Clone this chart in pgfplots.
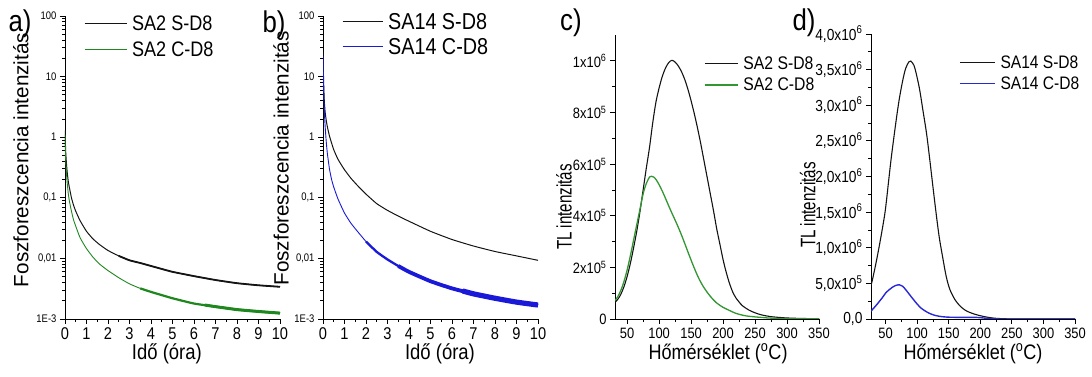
\documentclass[border=0pt]{standalone}
\usepackage{fontspec}
\setmainfont{Liberation Sans}[FakeStretch=0.86]
\newfontfamily\plainfont{Liberation Sans}
\newfontfamily\condfont{Liberation Sans}[FakeStretch=0.72]
\usepackage{pgfplots}
\pgfplotsset{compat=1.18}
\definecolor{cgreen}{RGB}{30,135,30}
\definecolor{cgreenc}{RGB}{50,150,50}
\definecolor{cblue}{RGB}{25,25,215}
\definecolor{cblued}{RGB}{40,40,215}
\definecolor{cblack}{RGB}{20,20,20}
\newcommand{\fs}[1]{\fontsize{#1pt}{#1pt}\selectfont}

\pgfplotsset{
 common/.style={scale only axis, axis lines=left, axis line style={-, line width=0.9pt},
   tick align=outside, major tick length=5pt, minor tick length=3pt,
   every tick/.style={black, line width=0.8pt}, clip mode=individual,
   /pgf/number format/assume math mode=true, legend cell align=left,
   legend style={draw=none, fill=none, inner sep=0pt, nodes={inner sep=1pt},
     /tikz/every odd column/.append style={column sep=4pt}},
   scaled ticks=false},
 logminor/.style={minor ytick={2e-3,3e-3,4e-3,5e-3,6e-3,7e-3,8e-3,9e-3,
   2e-2,3e-2,4e-2,5e-2,6e-2,7e-2,8e-2,9e-2,0.2,0.3,0.4,0.5,0.6,0.7,0.8,0.9,
   2,3,4,5,6,7,8,9,20,30,40,50,60,70,80,90}},
}

\begin{document}
\begin{tikzpicture}
\path[use as bounding box] (0pt,0pt) rectangle (1092pt,377pt);

% ---------------- a ----------------
\begin{axis}[common, logminor, at={(65pt,58pt)}, anchor=south west, width=215pt, height=303pt,
  ymode=log, xmin=0, xmax=10, ymin=1e-3, ymax=100,
  xtick={0,1,2,3,4,5,6,7,8,9,10}, minor x tick num=1,
  ytick={1e-3,1e-2,1e-1,1,10,100}, yticklabels={1E-3,{0,01},{0,1},1,10,100},
  xticklabel style={font=\fs{17}}, yticklabel style={font=\fs{11}},
  xlabel={Idő (óra)}, ylabel={Foszforeszcencia intenzitás},
  xlabel style={font=\fs{21.5}, at={(axis description cs:0.474,-0.116)}, anchor=center},
  ylabel style={font=\plainfont\fs{20.7}, at={(axis description cs:-0.205,0.525)}, anchor=center},
  legend style={at={(axis description cs:0.088,1.005)}, anchor=north west, font=\fs{21}, row sep=8pt},
  legend image code/.code={\draw[#1] (0pt,0pt) -- (42pt,0pt);}]
\addplot[cblack, line width=1pt, smooth, tension=0.3] coordinates {
(0,1.3)(0.03,0.6)(0.06,0.4)(0.1,0.27)(0.15,0.19)(0.2,0.15)(0.3,0.1)(0.4,0.075)(0.5,0.06)(0.7,0.042)
(1,0.028)(1.3,0.021)(1.6,0.017)(2,0.0135)(2.5,0.011)(3,0.0093)(3.5,0.0084)(4,0.0075)(4.5,0.0067)
(5,0.006)(6,0.0051)(7,0.0044)(8,0.0039)(9,0.0036)(10,0.0034)};
\addlegendentry{SA2 S-D8}
\addplot[cgreen, line width=0.9pt, smooth, tension=0.3] coordinates {
(0,1.1)(0.03,0.45)(0.06,0.28)(0.1,0.18)(0.15,0.12)(0.2,0.09)(0.3,0.06)(0.4,0.043)(0.5,0.034)(0.7,0.022)
(1,0.0145)(1.3,0.0105)(1.6,0.0081)(2,0.0063)(2.5,0.0048)(3,0.0038)(3.5,0.0032)(4,0.0028)
(5,0.0022)(6,0.0018)(7,0.0016)(8,0.00143)(9,0.00133)(10,0.00125)};
\addlegendentry{SA2 C-D8}
\addplot[cblack, line width=1.8pt, smooth, tension=0.3, forget plot] coordinates {
(2.5,0.011)(3,0.0093)(3.5,0.0084)(4,0.0075)(4.5,0.0067)
(5,0.006)(6,0.0051)(7,0.0044)(8,0.0039)(9,0.0036)(10,0.0034)};
\addplot[cgreen, line width=2.2pt, smooth, tension=0.3, forget plot] coordinates {
(3.5,0.0032)(4,0.0028)(5,0.0022)(6,0.0018)(7,0.0016)(8,0.00143)(9,0.00133)(10,0.00125)};
\addplot[cgreen, line width=3pt, smooth, tension=0.3, forget plot] coordinates {
(6.5,0.0017)(7,0.0016)(8,0.00143)(9,0.00133)(10,0.00125)};
\node[font=\fs{30}] at (axis description cs:-0.209,0.974) {a)};
\end{axis}

% ---------------- b ----------------
\begin{axis}[common, logminor, at={(323pt,58pt)}, anchor=south west, width=215pt, height=303pt,
  ymode=log, xmin=0, xmax=10, ymin=1e-3, ymax=100,
  xtick={0,1,2,3,4,5,6,7,8,9,10}, minor x tick num=1,
  ytick={1e-3,1e-2,1e-1,1,10,100}, yticklabels={1E-3,{0,01},{0,1},1,10,100},
  xticklabel style={font=\fs{17}}, yticklabel style={font=\fs{11}},
  xlabel={Idő (óra)}, ylabel={Foszforeszcencia intenzitás},
  xlabel style={font=\fs{21.5}, at={(axis description cs:0.544,-0.116)}, anchor=center},
  ylabel style={font=\plainfont\fs{20.7}, at={(axis description cs:-0.195,0.53)}, anchor=center},
  legend style={at={(axis description cs:0.088,1.014)}, anchor=north west, font=\fs{23}, row sep=5.5pt},
  legend image code/.code={\draw[#1] (0pt,0pt) -- (40pt,0pt);}]
\addplot[cblack, line width=1pt, smooth, tension=0.3] coordinates {
(0,25)(0.03,8)(0.06,4)(0.1,2.6)(0.15,1.9)(0.2,1.5)(0.3,1.05)(0.4,0.8)(0.5,0.62)(0.7,0.43)
(1,0.29)(1.3,0.21)(1.6,0.16)(2,0.115)(2.5,0.08)(3,0.062)(3.5,0.05)(4,0.041)
(5,0.028)(6,0.0205)(7,0.016)(8,0.013)(9,0.011)(10,0.0093)};
\addlegendentry{SA14 S-D8}
\addplot[cblue, line width=0.9pt, smooth, tension=0.3] coordinates {
(0,22)(0.03,6)(0.06,2.8)(0.1,1.5)(0.15,0.85)(0.2,0.55)(0.3,0.3)(0.4,0.2)(0.5,0.15)(0.7,0.095)
(1,0.056)(1.3,0.038)(1.6,0.028)(2,0.019)(2.5,0.0128)(3,0.0096)(3.5,0.0075)(4,0.006)
(5,0.0042)(6,0.0032)(7,0.0026)(8,0.0022)(9,0.0019)(10,0.0017)};
\addlegendentry{SA14 C-D8}
\addplot[cblue, line width=2.3pt, smooth, tension=0.3, forget plot] coordinates {
(2,0.019)(2.5,0.0128)(3,0.0096)(3.5,0.0075)(4,0.006)
(5,0.0042)(6,0.0032)(7,0.0026)(8,0.0022)(9,0.0019)(10,0.0017)};
\addplot[cblue, line width=3.8pt, smooth, tension=0.3, forget plot] coordinates {
(3.5,0.0075)(4,0.006)(5,0.0042)(6,0.0032)(7,0.0026)(8,0.0022)(9,0.0019)(10,0.0017)};
\addplot[cblue, line width=5.2pt, smooth, tension=0.3, forget plot] coordinates {
(6.5,0.0029)(7,0.0026)(8,0.0022)(9,0.0019)(10,0.0017)};
\node[font=\fs{30}] at (axis description cs:-0.228,0.97) {b)};
\end{axis}

% ---------------- c ----------------
\begin{axis}[common, at={(615pt,58pt)}, anchor=south west, width=204pt, height=284pt,
  xmin=31, xmax=350, ymin=0, ymax=1.1e6,
  xtick={50,100,150,200,250,300,350}, minor x tick num=1,
  ytick={0,200000,400000,600000,800000,1000000},
  yticklabels={0,2x10\textsuperscript{5},4x10\textsuperscript{5},6x10\textsuperscript{5},8x10\textsuperscript{5},1x10\textsuperscript{6}},
  minor y tick num=1,
  xticklabel style={font=\fs{15}}, yticklabel style={font=\fs{15}},
  xlabel={Hőmérséklet (\textsuperscript{o}C)}, ylabel={TL intenzitás},
  xlabel style={font=\fs{21}, at={(axis description cs:0.505,-0.122)}, anchor=center},
  ylabel style={font=\condfont\fs{21}, at={(axis description cs:-0.25,0.394)}, anchor=center},
  legend style={at={(axis description cs:0.436,0.928)}, anchor=north west, font=\fs{18.3}, row sep=5pt},
  legend image code/.code={\draw[#1] (0pt,0pt) -- (33pt,0pt);}]
\addplot[cblack, line width=1.1pt, smooth] coordinates {
(31,65000)(35,75000)(40,95000)(45,125000)(50,165000)(55,215000)(60,275000)(65,340000)(70,415000)
(75,500000)(80,585000)(85,665000)(90,760000)(95,840000)(100,895000)(105,940000)(110,972000)
(115,993000)(120,1002000)(125,995000)(130,980000)(135,958000)(140,928000)(145,890000)(150,845000)
(155,795000)(160,740000)(165,680000)(170,615000)(175,550000)(180,485000)(185,420000)(190,350000)
(195,290000)(200,230000)(205,180000)(210,138000)(215,105000)(220,82000)(225,66000)(230,52000)
(240,35000)(250,24000)(260,16000)(275,9000)(300,4000)(325,2000)(350,1000)};
\addlegendentry{SA2 S-D8}
\addplot[cgreenc, line width=1.3pt, smooth] coordinates {
(31,72000)(35,85000)(40,110000)(45,145000)(50,190000)(55,245000)(60,305000)(65,365000)(70,425000)
(75,485000)(80,525000)(85,550000)(88,553000)(92,549000)(96,537000)(100,520000)(105,495000)
(110,467000)(115,438000)(120,410000)(125,383000)(130,355000)(135,325000)(140,293000)
(145,260000)(150,228000)(155,197000)(160,168000)(165,143000)(170,122000)(175,104000)
(180,88000)(185,74000)(190,62000)(195,53000)(200,45000)(210,33000)(220,22000)(236,12000)
(260,6000)(277,3000)(300,1500)(350,500)};
\addlegendentry{SA2 C-D8}
\node[font=\fs{30}] at (axis description cs:-0.216,1.042) {c)};
\end{axis}

% ---------------- d ----------------
\begin{axis}[common, at={(871pt,58pt)}, anchor=south west, width=204pt, height=285pt,
  xmin=27, xmax=350, ymin=0, ymax=4e6,
  xtick={50,100,150,200,250,300,350}, minor x tick num=1,
  ytick={0,500000,1000000,1500000,2000000,2500000,3000000,3500000,4000000},
  yticklabels={{0,0},{5,0x10\textsuperscript{5}},{1,0x10\textsuperscript{6}},{1,5x10\textsuperscript{6}},{2,0x10\textsuperscript{6}},{2,5x10\textsuperscript{6}},{3,0x10\textsuperscript{6}},{3,5x10\textsuperscript{6}},{4,0x10\textsuperscript{6}}},
  minor y tick num=1,
  xticklabel style={font=\fs{15}}, yticklabel style={font=\fs{16}},
  xlabel={Hőmérséklet (\textsuperscript{o}C)}, ylabel={TL intenzitás},
  xlabel style={font=\fs{21}, at={(axis description cs:0.5,-0.122)}, anchor=center},
  ylabel style={font=\condfont\fs{21}, at={(axis description cs:-0.31,0.40)}, anchor=center},
  legend style={at={(axis description cs:0.431,0.929)}, anchor=north west, font=\fs{18.1}, row sep=5pt},
  legend image code/.code={\draw[#1] (0pt,0pt) -- (35pt,0pt);}]
\addplot[color=cblack, draw=cblack, line width=1.1pt, smooth] coordinates {
(27,470000)(30,580000)(35,790000)(40,1020000)(45.8,1310000)(50,1550000)(56.3,2050000)(60,2330000)
(67,2800000)(72,3100000)(77.5,3360000)(82,3520000)(87,3610000)(90,3620000)(95,3560000)
(98.7,3440000)(104,3220000)(109,2940000)(115,2600000)(120,2240000)(125,1860000)(130,1490000)
(135,1150000)(141,840000)(146,600000)(151.6,420000)(160,270000)(167.5,187000)(175,130000)
(183,93000)(194,60000)(204.5,37000)(215,20000)(225.7,9000)(240,3000)(260,1000)(300,0)(350,0)};
\addlegendentry{SA14 S-D8}
\addplot[color=cblued, draw=cblued, line width=1.4pt, smooth] coordinates {
(27,110000)(35,190000)(45,300000)(51,373000)(60,440000)(66,470000)(72,480000)(77,460000)
(83,400000)(90,320000)(98.7,224000)(106,155000)(114.5,103000)(122,70000)(130,47000)(140,32000)
(151.6,25000)(170,23000)(194,22000)(204,15000)(215,6000)(225,2000)(240,0)(350,0)};
\addlegendentry{SA14 C-D8}
\node[font=\fs{30}] at (axis description cs:-0.328,1.039) {d)};
\end{axis}
\end{tikzpicture}
\end{document}
